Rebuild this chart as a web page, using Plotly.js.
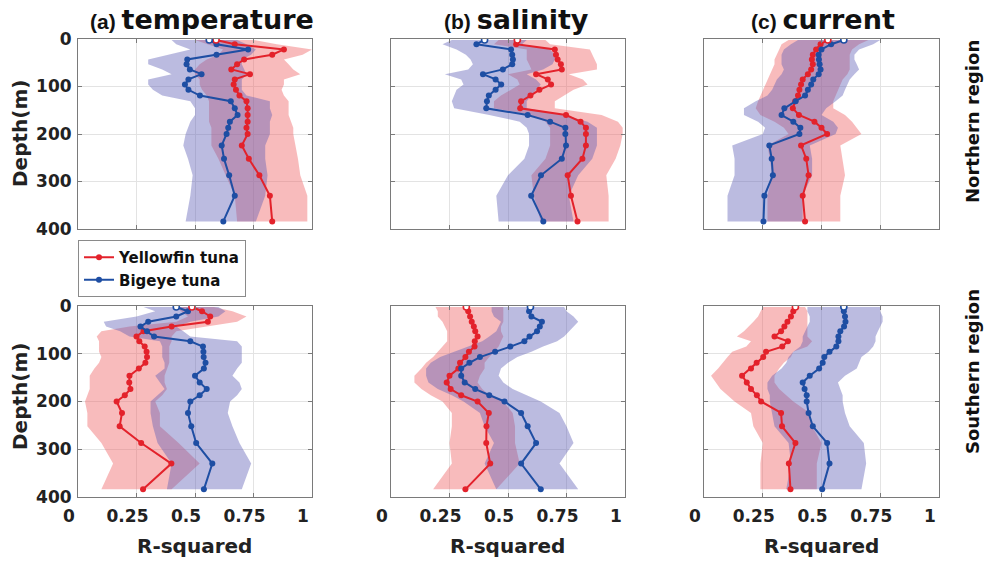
<!DOCTYPE html>
<html>
<head>
<meta charset="utf-8">
<script src="https://cdn.plot.ly/plotly-3.0.1.min.js"></script>
<style>html,body{margin:0;padding:0;background:#fff;}#chart{width:985px;height:563px;}</style>
</head>
<body>
<div id="chart"></div>
<script>
// Depth levels (m)
const depth = [2, 11, 22, 33, 43, 53, 64, 74, 85, 96, 107, 119, 131, 146, 160, 174, 187, 200, 224, 252, 287, 330, 384];

// (a) temperature, Northern region
const tempN_yf    = [0.59,0.67,0.88,0.83,0.71,0.68,0.655,0.735,0.67,0.665,0.675,0.69,0.72,0.725,0.725,0.725,0.72,0.725,0.70,0.73,0.775,0.82,0.83];
const tempN_yf_lo = [0.50,0.55,0.62,0.60,0.55,0.52,0.50,0.50,0.52,0.52,0.53,0.55,0.56,0.56,0.56,0.56,0.57,0.57,0.57,0.60,0.63,0.67,0.68];
const tempN_yf_hi = [0.75,0.85,1.00,0.96,0.88,0.90,0.92,0.95,0.88,0.88,0.87,0.88,0.90,0.90,0.90,0.91,0.92,0.92,0.93,0.94,0.95,0.98,0.98];
const tempN_be    = [0.561,0.592,0.727,0.592,0.467,0.464,0.478,0.528,0.472,0.457,0.472,0.521,0.653,0.670,0.682,0.649,0.642,0.635,0.614,0.624,0.646,0.670,0.621];
const tempN_be_lo = [0.40,0.42,0.48,0.38,0.30,0.30,0.36,0.40,0.30,0.30,0.32,0.36,0.48,0.50,0.50,0.48,0.47,0.46,0.45,0.47,0.49,0.48,0.46];
const tempN_be_hi = [0.68,0.72,0.76,0.74,0.70,0.70,0.71,0.72,0.70,0.70,0.70,0.72,0.82,0.82,0.83,0.82,0.82,0.82,0.80,0.80,0.81,0.80,0.76];

// (b) salinity, Northern region
const salN_yf    = [0.54,0.535,0.70,0.705,0.712,0.726,0.73,0.62,0.67,0.684,0.634,0.596,0.556,0.552,0.748,0.81,0.833,0.833,0.833,0.818,0.755,0.769,0.797];
const salN_yf_lo = [0.46,0.44,0.58,0.58,0.58,0.59,0.60,0.50,0.54,0.55,0.51,0.47,0.44,0.44,0.60,0.66,0.68,0.68,0.68,0.66,0.60,0.61,0.64];
const salN_yf_hi = [0.66,0.68,0.85,0.86,0.87,0.88,0.88,0.76,0.82,0.84,0.78,0.74,0.70,0.70,0.90,0.97,0.99,0.99,0.98,0.96,0.92,0.93,0.93];
const salN_be    = [0.40,0.365,0.513,0.518,0.521,0.518,0.478,0.393,0.447,0.471,0.447,0.418,0.41,0.407,0.584,0.68,0.745,0.745,0.748,0.73,0.641,0.599,0.651];
const salN_be_lo = [0.26,0.22,0.28,0.32,0.34,0.35,0.33,0.23,0.30,0.31,0.28,0.27,0.26,0.27,0.42,0.55,0.58,0.59,0.59,0.57,0.50,0.45,0.46];
const salN_be_hi = [0.58,0.56,0.68,0.70,0.70,0.69,0.65,0.58,0.62,0.64,0.62,0.60,0.58,0.58,0.74,0.84,0.88,0.88,0.88,0.86,0.80,0.76,0.78];

// (c) current, Northern region
const curN_yf    = [0.527,0.496,0.477,0.463,0.459,0.463,0.456,0.442,0.42,0.413,0.406,0.40,0.388,0.378,0.404,0.47,0.50,0.524,0.413,0.435,0.445,0.42,0.43];
const curN_yf_lo = [0.36,0.33,0.32,0.31,0.30,0.30,0.29,0.28,0.27,0.26,0.25,0.24,0.23,0.22,0.24,0.30,0.34,0.36,0.27,0.28,0.29,0.27,0.27];
const curN_yf_hi = [0.70,0.66,0.63,0.62,0.62,0.62,0.62,0.61,0.59,0.58,0.57,0.56,0.55,0.55,0.60,0.63,0.65,0.67,0.58,0.59,0.60,0.58,0.58];
const curN_be    = [0.595,0.541,0.50,0.488,0.489,0.492,0.496,0.488,0.465,0.456,0.442,0.43,0.39,0.342,0.33,0.38,0.41,0.406,0.278,0.288,0.293,0.257,0.253];
const curN_be_lo = [0.40,0.37,0.34,0.33,0.33,0.33,0.34,0.33,0.31,0.30,0.29,0.27,0.22,0.17,0.17,0.23,0.26,0.25,0.12,0.13,0.13,0.10,0.10];
const curN_be_hi = [0.75,0.72,0.66,0.64,0.64,0.65,0.66,0.64,0.62,0.61,0.60,0.59,0.56,0.52,0.50,0.55,0.57,0.56,0.45,0.46,0.46,0.42,0.42];

// (a) temperature, Southern region
const tempS_yf    = [0.487,0.53,0.565,0.555,0.40,0.28,0.25,0.262,0.285,0.293,0.295,0.288,0.26,0.22,0.219,0.224,0.20,0.165,0.188,0.178,0.27,0.399,0.278];
const tempS_yf_lo = [0.42,0.44,0.47,0.42,0.22,0.10,0.08,0.09,0.09,0.09,0.10,0.09,0.07,0.05,0.05,0.05,0.04,0.03,0.04,0.04,0.10,0.15,0.10];
const tempS_yf_hi = [0.58,0.66,0.72,0.68,0.56,0.42,0.40,0.40,0.39,0.39,0.39,0.39,0.38,0.37,0.37,0.38,0.36,0.33,0.35,0.35,0.43,0.52,0.40];
const tempS_be    = [0.42,0.47,0.42,0.30,0.267,0.295,0.325,0.48,0.534,0.536,0.537,0.545,0.538,0.50,0.52,0.55,0.52,0.48,0.47,0.484,0.505,0.574,0.538];
const tempS_be_lo = [0.28,0.33,0.25,0.11,0.12,0.18,0.22,0.35,0.36,0.36,0.36,0.37,0.37,0.33,0.35,0.37,0.34,0.31,0.31,0.32,0.34,0.40,0.38];
const tempS_be_hi = [0.60,0.63,0.60,0.48,0.42,0.45,0.48,0.68,0.70,0.70,0.70,0.70,0.68,0.66,0.69,0.70,0.68,0.65,0.64,0.66,0.69,0.74,0.70];

// (b) salinity, Southern region
const salS_yf    = [0.322,0.33,0.338,0.345,0.354,0.36,0.37,0.358,0.357,0.333,0.318,0.295,0.288,0.25,0.238,0.255,0.30,0.37,0.418,0.408,0.407,0.424,0.318];
const salS_yf_lo = [0.19,0.20,0.20,0.22,0.23,0.24,0.24,0.24,0.22,0.20,0.18,0.15,0.13,0.10,0.10,0.13,0.17,0.22,0.26,0.26,0.25,0.26,0.18];
const salS_yf_hi = [0.48,0.48,0.48,0.48,0.47,0.47,0.48,0.47,0.46,0.44,0.42,0.40,0.40,0.38,0.37,0.39,0.42,0.48,0.52,0.53,0.53,0.55,0.45];
const salS_be    = [0.596,0.59,0.60,0.645,0.636,0.624,0.592,0.57,0.51,0.445,0.38,0.335,0.30,0.30,0.315,0.36,0.42,0.485,0.556,0.584,0.62,0.556,0.64];
const salS_be_lo = [0.43,0.43,0.44,0.47,0.46,0.45,0.42,0.39,0.33,0.27,0.21,0.17,0.15,0.15,0.16,0.20,0.26,0.31,0.38,0.40,0.44,0.40,0.45];
const salS_be_hi = [0.74,0.75,0.78,0.80,0.78,0.76,0.74,0.71,0.65,0.60,0.54,0.50,0.47,0.46,0.48,0.52,0.58,0.64,0.72,0.75,0.78,0.72,0.80];

// (c) current, Southern region
const curS_yf    = [0.389,0.38,0.37,0.355,0.342,0.328,0.30,0.357,0.333,0.264,0.252,0.224,0.20,0.162,0.182,0.20,0.225,0.243,0.328,0.332,0.389,0.361,0.368];
const curS_yf_lo = [0.25,0.24,0.23,0.21,0.19,0.17,0.14,0.20,0.18,0.12,0.10,0.08,0.06,0.03,0.05,0.07,0.10,0.13,0.20,0.21,0.25,0.24,0.24];
const curS_yf_hi = [0.43,0.44,0.44,0.44,0.44,0.44,0.44,0.46,0.44,0.38,0.37,0.34,0.32,0.30,0.30,0.32,0.35,0.38,0.45,0.46,0.50,0.48,0.48];
const curS_be    = [0.595,0.595,0.60,0.602,0.596,0.58,0.572,0.572,0.563,0.534,0.512,0.505,0.49,0.45,0.42,0.428,0.437,0.437,0.445,0.463,0.524,0.534,0.503];
const curS_be_lo = [0.44,0.44,0.45,0.45,0.44,0.43,0.42,0.42,0.41,0.38,0.36,0.35,0.33,0.29,0.27,0.27,0.28,0.28,0.29,0.30,0.36,0.37,0.35];
const curS_be_hi = [0.75,0.75,0.76,0.76,0.75,0.74,0.73,0.73,0.72,0.70,0.67,0.66,0.65,0.60,0.57,0.58,0.59,0.59,0.60,0.62,0.68,0.69,0.67];

// Tick labels / text
const xTickVals = [0, 0.25, 0.5, 0.75, 1];
const xTickText = ['0', '0.25', '0.5', '0.75', '1'];
const yTickVals = [0, 100, 200, 300, 400];
const yTickText = ['0', '100', '200', '300', '400'];
const seriesNames = ['Yellowfin tuna', 'Bigeye tuna'];
const panelTags = ['(a)', '(b)', '(c)'];
const panelVars = ['temperature', 'salinity', 'current'];
const regionNames = ['Northern region', 'Southern region'];

const panels = [
  [tempN_yf, tempN_yf_lo, tempN_yf_hi, tempN_be, tempN_be_lo, tempN_be_hi],
  [salN_yf, salN_yf_lo, salN_yf_hi, salN_be, salN_be_lo, salN_be_hi],
  [curN_yf, curN_yf_lo, curN_yf_hi, curN_be, curN_be_lo, curN_be_hi],
  [tempS_yf, tempS_yf_lo, tempS_yf_hi, tempS_be, tempS_be_lo, tempS_be_hi],
  [salS_yf, salS_yf_lo, salS_yf_hi, salS_be, salS_be_lo, salS_be_hi],
  [curS_yf, curS_yf_lo, curS_yf_hi, curS_be, curS_be_lo, curS_be_hi]
];

const RED = '#e3222b', BLUE = '#1e4ea3';
const RED_FILL = 'rgba(238,92,96,0.42)', BLUE_FILL = 'rgba(92,92,182,0.42)';
const FONT = 'DejaVu Sans, Liberation Sans, Arial, sans-serif';
const W = 985, H = 563;
const xDom = [[78/W, 312/W], [391/W, 625/W], [704/W, 939/W]];
const yDom = [[1-229/H, 1-39/H], [1-497/H, 1-306/H]];

const traces = [];
const layout = {
  width: W, height: H,
  margin: {l:0, r:0, t:0, b:0},
  paper_bgcolor: '#fff', plot_bgcolor: '#fff',
  showlegend: true,
  legend: {
    x: 78/W, y: 1-240/H, xanchor: 'left', yanchor: 'top',
    bordercolor: '#8a8a8a', borderwidth: 1, bgcolor: '#fff',
    font: {family: FONT, size: 15, color: '#111', weight: 'bold'},
    itemwidth: 30, tracegroupgap: 0
  },
  annotations: [],
  font: {family: FONT}
};

function band(lo, hi, fill, xa, ya) {
  return {
    type: 'scatter', mode: 'lines', xaxis: xa, yaxis: ya,
    x: lo.concat(hi.slice().reverse()),
    y: depth.concat(depth.slice().reverse()),
    fill: 'toself', fillcolor: fill, line: {width: 0, color: fill},
    hoverinfo: 'skip', showlegend: false
  };
}
function line(vals, color, name, xa, ya, showLeg) {
  return {
    type: 'scatter', mode: 'lines+markers', xaxis: xa, yaxis: ya,
    x: vals, y: depth, name: name, showlegend: showLeg, legendgroup: name,
    line: {color: color, width: 2},
    marker: {color: color, size: 6, symbol: 'circle'}
  };
}
function firstPoint(vals, color, xa, ya) {
  return {
    type: 'scatter', mode: 'markers', xaxis: xa, yaxis: ya,
    x: [vals[0]], y: [depth[0]], showlegend: false, hoverinfo: 'skip',
    marker: {color: '#ffffff', size: 6, symbol: 'circle', line: {color: color, width: 1.6}}
  };
}

panels.forEach((p, i) => {
  const row = Math.floor(i / 3), col = i % 3;
  const n = i === 0 ? '' : String(i + 1);
  const xa = 'x' + n, ya = 'y' + n;
  traces.push(band(p[1], p[2], RED_FILL, xa, ya));
  traces.push(band(p[4], p[5], BLUE_FILL, xa, ya));
  traces.push(line(p[0], RED, seriesNames[0], xa, ya, i === 0));
  traces.push(line(p[3], BLUE, seriesNames[1], xa, ya, i === 0));
  traces.push(firstPoint(p[0], RED, xa, ya));
  traces.push(firstPoint(p[3], BLUE, xa, ya));

  const axCommon = {
    showgrid: true, gridcolor: '#e3e3e3', gridwidth: 1,
    showline: true, mirror: 'ticks', linecolor: '#7a7a7a', linewidth: 1,
    ticks: 'inside', ticklen: 4, tickcolor: '#7a7a7a',
    zeroline: false, fixedrange: true,
    tickfont: {family: FONT, size: 17, color: '#222', weight: 'bold'}
  };
  layout['xaxis' + n] = Object.assign({}, axCommon, {
    domain: xDom[col], anchor: ya, range: [0, 1],
    tickmode: 'array', tickvals: xTickVals, ticktext: xTickText,
    showticklabels: row === 1, ticklabelshift: -9, ticklabelstandoff: 4
  });
  layout['yaxis' + n] = Object.assign({}, axCommon, {
    domain: yDom[row], anchor: xa, range: [400, 0],
    tickmode: 'array', tickvals: yTickVals, ticktext: yTickText,
    showticklabels: col === 0, ticklabelstandoff: 2
  });
});

// Panel titles
const titleCenters = [202, 516, 823];
panelTags.forEach((tag, c) => {
  layout.annotations.push({
    xref: 'paper', yref: 'paper', x: titleCenters[c]/W, y: 1 - 20/H,
    xanchor: 'center', yanchor: 'middle', showarrow: false,
    text: '<span style="font-family:\'Liberation Sans Narrow\',\'Liberation Sans\';font-size:21px">' + tag + ' </span>' + panelVars[c],
    font: {family: FONT, size: 27, color: '#111', weight: 'bold'}
  });
  // x-axis titles
  layout.annotations.push({
    xref: 'paper', yref: 'paper', x: (xDom[c][0] + xDom[c][1]) / 2, y: 1 - 546/H,
    xanchor: 'center', yanchor: 'middle', showarrow: false,
    text: 'R-squared',
    font: {family: FONT, size: 20, color: '#222', weight: 'bold'}
  });
});
// y-axis titles
[134, 397].forEach(yc => {
  layout.annotations.push({
    xref: 'paper', yref: 'paper', x: 20/W, y: 1 - yc/H,
    xanchor: 'center', yanchor: 'middle', showarrow: false, textangle: -90,
    text: 'Depth(m)',
    font: {family: FONT, size: 20, color: '#222', weight: 'bold'}
  });
});
// Region labels
[122, 372].forEach((yc, r) => {
  layout.annotations.push({
    xref: 'paper', yref: 'paper', x: 972/W, y: 1 - yc/H,
    xanchor: 'center', yanchor: 'middle', showarrow: false, textangle: -90,
    text: regionNames[r],
    font: {family: FONT, size: 18, color: '#111', weight: 'bold'}
  });
});

Plotly.newPlot('chart', traces, layout, {staticPlot: true, displayModeBar: false});
</script>
</body>
</html>
